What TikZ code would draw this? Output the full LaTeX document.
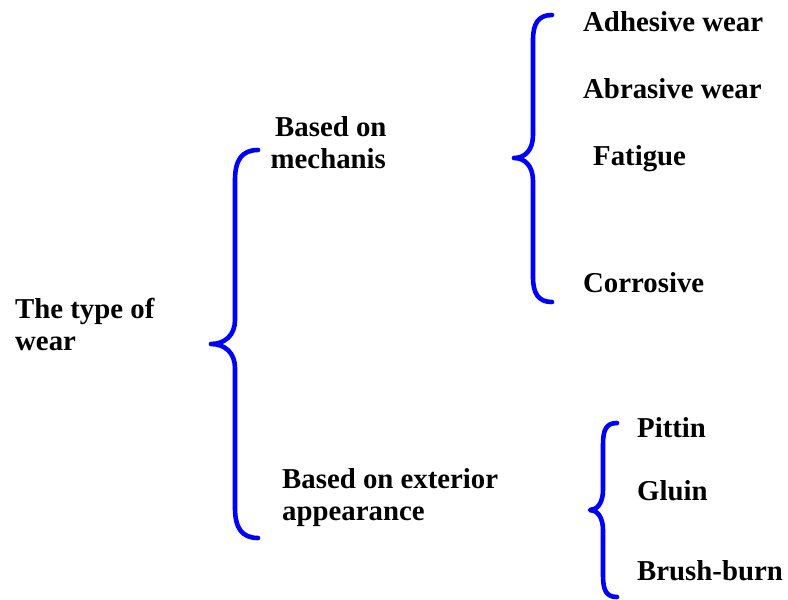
\documentclass[tikz,border=0pt]{standalone}
\usepackage{fontspec}
\setmainfont{Liberation Serif}
\begin{document}
\begin{tikzpicture}[x=1pt,y=-1pt,
  lbl/.style={font=\fontsize{28.8}{32}\selectfont\bfseries, inner sep=0pt, anchor=base west, align=left},
  brace/.style={draw=blue, line width=4.6pt, line cap=round, line join=round}]
\useasboundingbox[fill=white] (0,0) rectangle (788,600);
% braces
\path[brace] (258,150) .. controls (242,150) and (235,160) .. (235,180) -- (235,320)
  .. controls (235,335) and (225,344) .. (211,344)
  .. controls (225,344) and (235,353) .. (235,368) -- (235,508)
  .. controls (235,528) and (242,538) .. (258,538);
\path[brace] (552,15) .. controls (538,15) and (533,24) .. (533,40) -- (533,135)
  .. controls (533,150) and (525,158) .. (514,158)
  .. controls (525,158) and (533,166) .. (533,181) -- (533,277)
  .. controls (533,293) and (538,302) .. (552,302);
\path[brace] (617,423) .. controls (606,423) and (603,430) .. (603,445) -- (603,490)
  .. controls (603,503) and (597,510) .. (590,510)
  .. controls (597,510) and (603,517) .. (603,530) -- (603,575)
  .. controls (603,590) and (606,597) .. (617,597);
% labels (multi-line: base anchor is the last line's baseline)
\node[lbl] (root) at (15,350) {The type of\\wear};
\node[lbl, align=center] (mech) at (270,168) {\hspace*{5pt}Based on\\mechanis};
\node[lbl] (ext) at (282,520) {Based on exterior\\appearance};
\node[lbl] (adh) at (583,31) {Adhesive wear};
\node[lbl] (abr) at (583,98) {Abrasive wear};
\node[lbl] (fat) at (593,165) {Fatigue};
\node[lbl] (cor) at (583,292) {Corrosive};
\node[lbl] (pit) at (637,437) {Pittin};
\node[lbl] (glu) at (637,500) {Gluin};
\node[lbl] (bru) at (637,580) {Brush-burn};
\end{tikzpicture}
\end{document}
